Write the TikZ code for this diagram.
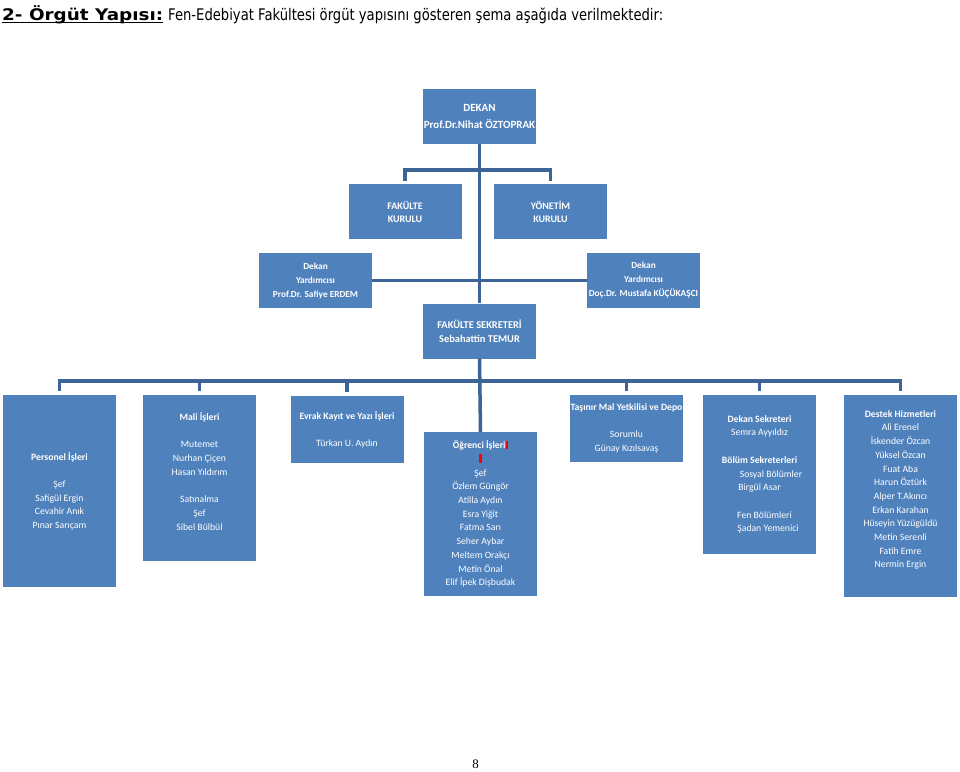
\documentclass[tikz,border=0pt]{standalone}
\usepackage{fontspec}
\usepackage{graphicx}
\setmainfont{Carlito}
\newfontfamily\titlefont{DejaVu Sans}
\newfontfamily\pagefont{Liberation Serif}
\definecolor{boxblue}{RGB}{79,129,189}
\definecolor{lineblue}{RGB}{60,100,150}
\newcommand\thickul[1]{\setbox0\hbox{#1}\rlap{\rule[-3.2pt]{\wd0}{1.6pt}}\box0}

\begin{document}
\begin{tikzpicture}[x=1pt,y=-1pt,
  box/.style={fill=boxblue, text=white, inner sep=0pt, align=center},
  topbox/.style={box, font=\bfseries\fontsize{10}{14}\selectfont, minimum width=113, minimum height=55},
  lowbox/.style={box, font=\fontsize{9.7}{13.7}\selectfont, minimum width=113},
  conn/.style={draw=lineblue, line width=3.5pt}]
\useasboundingbox (0,0) rectangle (960,771);

% Title line
\node[anchor=base west, inner sep=0pt, font=\titlefont\fontsize{16}{18}\selectfont] (title) at (2,20)
  {\resizebox{161pt}{\height}{\bfseries\thickul{2- Örgüt Yapısı:}}\hspace{5pt}\resizebox{495pt}{\height}{Fen-Edebiyat Fakültesi örgüt yapısını gösteren şema aşağıda verilmektedir:}};

% Upper levels
\node[topbox, font=\bfseries\fontsize{11}{17}\selectfont] (dekan) at (479.5,116.5) {DEKAN\\Prof.Dr.Nihat ÖZTOPRAK};
\node[topbox] (fkurul) at (405,211.5) {FAKÜLTE\\[-1pt]KURULU};
\node[topbox] (ykurul) at (550.5,211.5) {YÖNETİM\\[-1pt]KURULU};
\node[topbox, font=\bfseries\fontsize{9.3}{14}\selectfont] (dyard1) at (315.5,280.5) {Dekan\\Yardımcısı\\Prof.Dr. Safiye ERDEM};
\node[topbox, font=\bfseries\fontsize{9.3}{14}\selectfont] (dyard2) at (643.5,280.5) {Dekan\\Yardımcısı\\Doç.Dr. Mustafa KÜÇÜKAŞCI};
\node[topbox, font=\bfseries\fontsize{10.4}{14}\selectfont] (fsek) at (479.5,331) {FAKÜLTE SEKRETERİ\\Sebahattin TEMUR};

% Units
\node[lowbox, minimum height=192] (personel) at (59.5,491)
  {\textbf{Personel İşleri}\\[13.7pt]Şef\\Safigül Ergin\\Cevahir Anık\\Pınar Sarıçam};
\node[lowbox, minimum height=166] (mali) at (199.5,478)
  {\textbf{Mali İşleri}\\[13.7pt]Mutemet\\Nurhan Çiçen\\Hasan Yıldırım\\[13.7pt]Satınalma\\Şef\\Sibel Bülbül\\ \mbox{}};
\node[lowbox, minimum height=67] (evrak) at (347,429.5)
  {\textbf{Evrak Kayıt ve Yazı İşleri}\\[13.7pt]Türkan U. Aydın};
\node[lowbox, minimum height=164] (ogrenci) at (480.5,514)
  {\textbf{Öğrenci İşleri}\textcolor{red}{\rule[-0.5pt]{2.5pt}{8.5pt}}\\\textcolor{red}{\rule[-0.5pt]{2.5pt}{8.5pt}}\\Şef\\Özlem Güngör\\Atilla Aydın\\Esra Yiğit\\Fatma Sarı\\Seher Aybar\\Meltem Orakçı\\Metin Önal\\Elif İpek Dişbudak};
\node[lowbox, minimum height=67] (tasinir) at (626.5,428.5)
  {\textbf{Taşınır Mal Yetkilisi ve Depo}\\[13.7pt]Sorumlu\\Günay Kızılsavaş};
\node[lowbox, minimum height=159] (deksek) at (759.5,474.5)
  {\textbf{Dekan Sekreteri}\\Semra Ayyıldız\\[13.7pt]\textbf{Bölüm Sekreterleri}\\\hspace*{23pt}Sosyal Bölümler\\Birgül Asar\\[13.7pt]\hspace*{10pt}Fen Bölümleri\\\hspace*{17pt}Şadan Yemenici};
\node[lowbox, minimum height=202] (destek) at (900.5,496)
  {\textbf{Destek Hizmetleri}\\Ali Erenel\\İskender Özcan\\Yüksel Özcan\\Fuat Aba\\Harun Öztürk\\Alper T.Akıncı\\Erkan Karahan\\Hüseyin Yüzügüldü\\Metin Serenli\\Fatih Emre\\Nermin Ergin\\ \mbox{}};

% Connectors
\draw[conn] (dekan.south) -- (fsek.north);
\draw[conn] (fsek.south) -- (ogrenci.north);
\draw[conn] ([yshift=3pt]fkurul.north) -- ++(0,-11) -| ([yshift=3pt]ykurul.north);
\draw[conn] (dyard1.east) -- (dyard2.west);
\draw[conn] ([yshift=4pt]personel.north) -- ++(0,-10) -| ([yshift=4pt]destek.north);
\foreach \unit in {mali,evrak,tasinir,deksek}
  \draw[conn] ([yshift=4pt]\unit.north) -- ++(0,-10);

% Page number
\node[font=\pagefont\fontsize{13}{15}\selectfont, inner sep=0pt] (pagenum) at (475.5,764) {8};
\end{tikzpicture}
\end{document}
